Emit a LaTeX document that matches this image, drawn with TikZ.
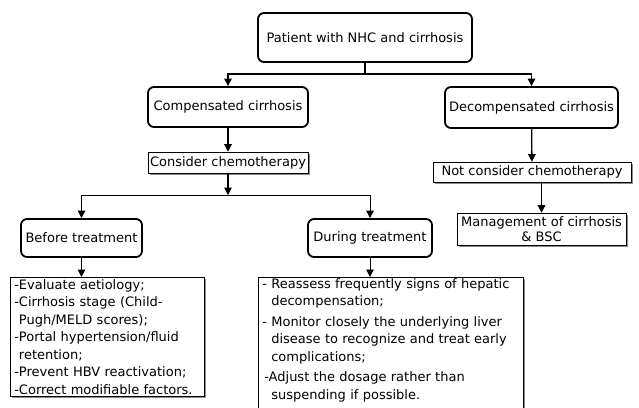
\documentclass[tikz,border=0pt]{standalone}
\usepackage{fontspec}
\setmainfont{DejaVu Sans}
\usetikzlibrary{arrows.meta,shadows}

\begin{document}
\begin{tikzpicture}[x=1pt,y=-1pt,line cap=round]
	\tikzstyle{rbox}=[draw,line width=1.8pt,rounded corners=6pt,inner sep=0pt,font=\fontsize{13}{16}\selectfont];
	\tikzstyle{sbox}=[draw,line width=0.6pt,fill=white,inner sep=0pt,drop shadow={shadow xshift=1.6pt,shadow yshift=-1.6pt,fill=black!45,opacity=1},font=\fontsize{13}{16}\selectfont];
	\tikzstyle{lbox}=[sbox,anchor=north west,inner xsep=4pt,inner ysep=1pt,align=left,font=\fontsize{13}{17.5}\selectfont];
	\tikzstyle{link}=[line width=1.3pt,-{Triangle[length=7.5pt,width=7.5pt]}];
	\tikzstyle{thinlink}=[line width=0.9pt,-{Triangle[length=7.5pt,width=7.5pt]}];

	\useasboundingbox (0,0) rectangle (639,407);
	\clip (0,0) rectangle (639,407);

	\node[rbox,minimum width=214pt,minimum height=49pt] (top) at (365,37.5) {Patient with NHC and cirrhosis};
	\node[rbox,minimum width=160pt,minimum height=40pt] (comp) at (228,107) {Compensated cirrhosis};
	\node[rbox,minimum width=173pt,minimum height=41pt] (decomp) at (531.5,107.5) {Decompensated cirrhosis};
	\node[sbox,minimum width=160pt,minimum height=21pt] (consider) at (228,162.5) {Consider chemotherapy};
	\node[sbox,minimum width=198pt,minimum height=20pt] (notcons) at (532,172) {Not consider chemotherapy};
	\node[sbox,minimum width=169pt,minimum height=32pt,align=center,font=\fontsize{13}{15}\selectfont] (mgmt) at (541.5,229) {Management of cirrhosis\\\& BSC};
	\node[rbox,minimum width=121pt,minimum height=38pt] (before) at (81.5,238) {Before treatment};
	\node[rbox,minimum width=124pt,minimum height=38pt] (during) at (370,238) {During treatment};
	\node[lbox,text width=186pt,minimum height=119pt] (list1) at (10,277) {-Evaluate aetiology;\\
		-Cirrhosis stage (Child-\\
		\phantom{-}Pugh/MELD scores);\\
		-Portal hypertension/fluid\\
		\phantom{-}retention;\\
		-Prevent HBV reactivation;\\
		-Correct modifiable factors.};
	\node[lbox,text width=257pt] (list2) at (258,277) {- Reassess frequently signs of hepatic\\
		\phantom{- }decompensation;\\[3pt]
		- Monitor closely the underlying liver\\
		\phantom{- }disease to recognize and treat early\\
		\phantom{- }complications;\\[3pt]
		\hspace{2pt}-Adjust the dosage rather than\\
		\phantom{- }suspending if possible.\\
		\mbox{}};

	\coordinate (fork1) at (365,74);
	\coordinate (fork2) at (228,195);
	\draw[link] (top.south) -- (fork1) -| (comp.north);
	\draw[link] (fork1) -| (decomp.north);
	\draw[link] (comp) -- (consider);
	\draw[link] (decomp) -- (notcons);
	\draw[link] (notcons.south -| mgmt.north) -- (mgmt);
	\draw[link] (consider) -- (fork2);
	\draw[thinlink] (fork2) -| (before.north);
	\draw[thinlink] (fork2) -| (during.north);
	\draw[link] (before) -- (list1.north -| before.south);
	\draw[thinlink] (during) -- (list2.north -| during.south);
\end{tikzpicture}
\end{document}
